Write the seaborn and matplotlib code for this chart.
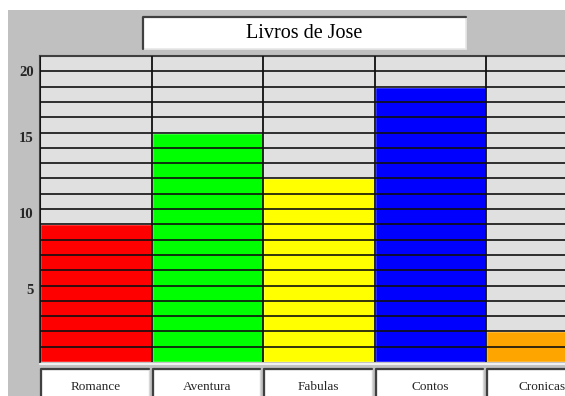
import matplotlib
matplotlib.use("Agg")
import matplotlib.pyplot as plt
import matplotlib.transforms as mtransforms
from matplotlib.patches import Rectangle
import seaborn as sns

# data
categories = ["Romance", "Aventura", "Fabulas", "Contos", "Cronicas"]
books = [9, 15, 12, 18, 2]
bar_colors = ["#ff0000", "#00ff00", "#ffff00", "#0000ff", "#ffa500"]
y_ticks = [5, 10, 15, 20]
title = "Livros de Jose"

W, H = 565, 396
sns.set_theme(style="white")
plt.rcParams["font.family"] = ["Liberation Serif", "DejaVu Serif"]

fig = plt.figure(figsize=(W / 100, H / 100), dpi=100, facecolor="white")

# grey panel behind everything (white strip on the top and left)
fig.patches.append(Rectangle((8 / W, 0), 1, 1 - 10 / H, transform=fig.transFigure,
                             facecolor="#c0c0c0", edgecolor="none", zorder=-5))

# title box, sunken look: dark top/left, light bottom/right
tx0, ty0, tw, th = 143 / W, 1 - 49 / H, 323 / W, 32 / H
fig.patches.append(Rectangle((tx0, ty0), tw, th, transform=fig.transFigure,
                             facecolor="white", edgecolor="#e8e8e8", linewidth=1.2, zorder=1))
fig.lines.append(plt.Line2D([tx0, tx0, tx0 + tw], [ty0, ty0 + th, ty0 + th],
                            transform=fig.transFigure, color="#404040", linewidth=1.6, zorder=2))
fig.text(304.5 / W, 1 - 33 / H, title, ha="center", va="center", fontsize=14.5, color="black")

left, right, top, bottom = 40, 565, 56, 362
ax = fig.add_axes([left / W, 1 - bottom / H, (right - left) / W, (bottom - top) / H])
ax.set_facecolor("#e0e0e0")

sns.barplot(x=categories, y=books, hue=categories, palette=bar_colors, legend=False,
            width=1.0, saturation=1, ax=ax, zorder=1)

col_w = 111.5
ax.set_xlim(-0.5, -0.5 + (right - left) / col_w)
ax.set_ylim(0, 20)

# grid lines on top of the bars
for v in range(1, 20):
    ax.axhline(v, color="#101010", linewidth=1.2, zorder=3)
for i in range(len(categories)):
    ax.axvline(i - 0.5, color="#101010", linewidth=1.3, zorder=3)

for s in ax.spines.values():
    s.set_visible(False)
for side in ["top", "left"]:
    ax.spines[side].set_visible(True)
    ax.spines[side].set_color("#404040")
    ax.spines[side].set_linewidth(1.5)

# light line under the plot
ax.plot([0, 1], [-0.006, -0.006], transform=ax.transAxes, color="#f0f0f0",
        linewidth=1.5, clip_on=False, zorder=4)

ax.set_yticks(y_ticks)
ax.set_yticklabels([str(t) for t in y_ticks], fontsize=10.5, fontweight="bold")
ax.tick_params(axis="y", length=0, pad=4.5)
for lab, t in zip(ax.get_yticklabels(), y_ticks):
    dy = 15 if t == 20 else 4
    lab.set_transform(lab.get_transform() + mtransforms.ScaledTranslation(0, -dy / 100, fig.dpi_scale_trans))

ax.set_xticks(range(len(categories)))
ax.set_xticklabels(categories, fontsize=9.5)
ax.tick_params(axis="x", length=0, pad=14)
ax.set_xlabel("")
ax.set_ylabel("")

# white label boxes under each category
trans = mtransforms.blended_transform_factory(ax.transData, ax.transAxes)
box_top = -7 / (bottom - top)
for i in range(len(categories)):
    x0 = i - 0.5 + 1 / col_w
    ax.add_patch(Rectangle((x0, box_top - 0.2), 1 - 4 / col_w, 0.2,
                           transform=trans, facecolor="white", edgecolor="#d8d8d8",
                           linewidth=1.0, clip_on=False, zorder=0))
    ax.plot([x0, x0, x0 + 1 - 4 / col_w], [box_top - 0.2, box_top, box_top],
            transform=trans, color="#404040", linewidth=1.6, clip_on=False, zorder=0)

fig.savefig("out.png", dpi=100, facecolor=fig.get_facecolor())
